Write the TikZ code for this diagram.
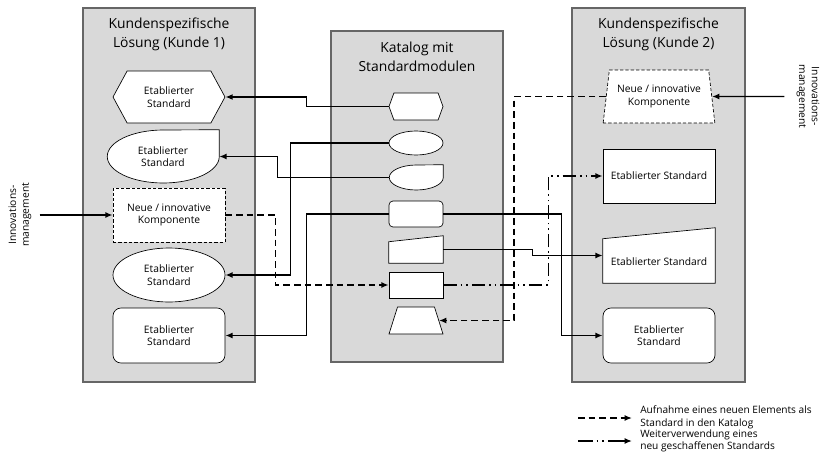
\documentclass[tikz,border=0pt]{standalone}
\usepackage{fontspec}
\setmainfont{Open Sans}
\usetikzlibrary{shapes.geometric,shapes.symbols,arrows.meta}

\begin{document}
\begin{tikzpicture}[x=0.75pt,y=-0.75pt,
  panel/.style={draw=black!60, line width=0.9pt, fill=black!15},
  shp/.style={draw, fill=white, line width=0.5pt},
  ntxt/.style={font=\fontsize{7.7}{9.5}\selectfont, align=center, inner sep=0pt},
  ttl/.style={font=\fontsize{10.4}{14}\selectfont, align=center},
  conn/.style={line width=1.1pt, -{Latex[length=5.5pt,width=4.5pt]}},
  neu/.style={dash pattern=on 5pt off 3pt},
  wv/.style={dash pattern=on 10pt off 3pt on 1.2pt off 3pt on 1.2pt off 3pt},
  fein/.style={dash pattern=on 2.5pt off 1.5pt}]
\useasboundingbox (0,0) rectangle (823,464);

% Rahmen
\draw[panel] (83,8) rectangle (255,382);
\draw[panel] (331,31) rectangle (503,362);
\draw[panel] (572,8) rectangle (745,382);

\node[ttl] (t1) at (169,34.5) {Kundenspezifische\\Lösung (Kunde 1)};
\node[ttl] (t2) at (417,57) {Katalog mit\\Standardmodulen};
\node[ttl] (t3) at (658.5,34.5) {Kundenspezifische\\Lösung (Kunde 2)};

% Kunde 1
\node[shp, ntxt, signal, signal to=west and east, signal pointer angle=123,
  minimum width=84pt, minimum height=39pt] (lhex) at (169,97) {Etablierter\\Standard};
\node[minimum width=84pt, minimum height=39.75pt] (lqe) at (163,156.5) {};
\draw[shp] (lqe.north east) -- (lqe.east) arc[start angle=0, end angle=-270, x radius=42pt, y radius=19.875pt] -- cycle;
\node[ntxt] (lqe-t) at (lqe) {Etablierter\\Standard};
\node[shp, ntxt, fein, minimum width=84pt, minimum height=40.5pt] (lnew) at (169,215) {Neue / innovative\\Komponente};
\node[shp, ntxt, ellipse, minimum width=84pt, minimum height=40.5pt] (lell) at (169,275) {Etablierter\\Standard};
\node[shp, ntxt, rounded corners=6pt, minimum width=84pt, minimum height=41.25pt] (lrr) at (169,335.5) {Etablierter\\Standard};

% Katalog
\node[shp, signal, signal to=west and east, signal pointer angle=140,
  minimum width=40.5pt, minimum height=20.25pt] (chex) at (416,106.5) {};
\node[shp, ellipse, minimum width=40.5pt, minimum height=18pt] (cell) at (416,143) {};
\node[minimum width=40.5pt, minimum height=18.75pt] (cqe) at (416,177.5) {};
\draw[shp] (cqe.north east) -- (cqe.east) arc[start angle=0, end angle=-270, x radius=20.25pt, y radius=9.375pt] -- cycle;
\node[shp, rounded corners=3pt, minimum width=40.5pt, minimum height=19.5pt] (crr) at (416,214) {};
\node[minimum width=40.5pt, minimum height=20.25pt] (csl) at (416,249.5) {};
\draw[shp] (csl.south west) -- (csl.south east) -- (csl.north east) -- ([yshift=-4.5pt]csl.north west) -- cycle;
\node[shp, minimum width=40.5pt, minimum height=19.5pt] (crect) at (416,285) {};
\node[shp, trapezium, trapezium stretches=true, trapezium angle=77,
  minimum width=40.5pt, minimum height=20.25pt] (ctrap) at (416,320.5) {};

% Kunde 2
\node[shp, ntxt, fein, trapezium, trapezium stretches=true, trapezium angle=77,
  minimum width=84pt, minimum height=39.75pt] (rnew) at (659,96.5) {Neue / innovative\\Komponente};
\node[shp, ntxt, minimum width=84pt, minimum height=40.5pt] (rrect) at (659,176) {Etablierter Standard};
\node[minimum width=84pt, minimum height=41.25pt] (rsl) at (659,255.5) {};
\draw[shp] (rsl.south west) -- (rsl.south east) -- (rsl.north east) -- ([yshift=-8.25pt]rsl.north west) -- cycle;
\node[ntxt] (rsl-t) at (659,262) {Etablierter Standard};
\node[shp, ntxt, rounded corners=6pt, minimum width=84pt, minimum height=41.25pt] (rrr) at (659,335.5) {Etablierter\\Standard};

% Innovationsmanagement
\node[ntxt, rotate=90] (innl) at (20,215) {Innovations-\\management};
\node[ntxt, rotate=-90] (innr) at (808,96.5) {Innovations-\\management};
\draw[conn] ([xshift=6pt]innl.south) -- (lnew.west);
\draw[conn] ([xshift=-9pt]innr.south) -- (rnew.east);

% Verbindungen
\draw[conn] (chex.west) -- ++(-82,0) |- (lhex.east);
\draw[conn] (cell.west) -- ++(-98,0) |- (lell.east);
\draw[conn] (cqe.west) -- ++(-111,0) |- (lqe.east);
\draw[conn] (crr.west) -- ++(-82,0) |- (lrr.east);
\draw[conn] (crr.east) -- ++(118,0) |- (rrr.west);
\draw[conn] (csl.east) -- ++(89,0) |- (rsl.west);
\draw[conn, neu] (lnew.east) -- ++(50,0) |- (crect.west);
\draw[conn, neu] (rnew.west) -- ++(-92,0) |- (ctrap.east);
\draw[conn, wv] (crect.east) -- ++(105,0) |- (rrect.west);

% Legende
\coordinate (lg1) at (578,418);
\coordinate (lg1e) at (632,418);
\coordinate (lg2) at (578,441);
\coordinate (lg2e) at (632,441);
\draw[conn, neu] (lg1) -- (lg1e);
\draw[conn, dash pattern=on 11pt off 3pt on 1.2pt off 3pt on 1.2pt off 3pt on 30pt] (lg2) -- (lg2e);
\node[ntxt, anchor=west, align=left, font=\fontsize{7.6}{9.5}\selectfont] (lg1-t) at (640,417) {Aufnahme eines neuen Elements als\\Standard in den Katalog};
\node[ntxt, anchor=west, align=left, font=\fontsize{7.6}{9.5}\selectfont] (lg2-t) at (640,441) {Weiterverwendung eines\\neu geschaffenen Standards};
\end{tikzpicture}
\end{document}
